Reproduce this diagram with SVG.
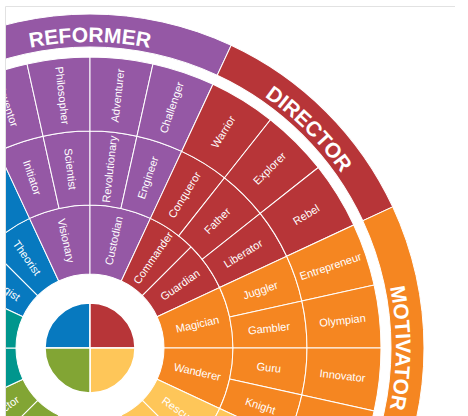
<svg xmlns="http://www.w3.org/2000/svg" width="468" height="416" viewBox="0 0 468 416">
<style>
.pu{fill:#9558A5}.rd{fill:#B73538}.or{fill:#F58621}.ye{fill:#FEC659}.bl{fill:#0779BF}.gr{fill:#82A534}.te{fill:#00968D}
use{stroke:#fff;stroke-width:1}
text{fill:#fff;font-family:"Liberation Sans",Arial,sans-serif;font-size:11px;text-anchor:middle}
text.big{font-size:21px;font-weight:bold}
.pie path{stroke:#fff;stroke-width:1.5}
</style>
<defs>
<clipPath id="clip"><rect x="6" y="7" width="462" height="409"/></clipPath>
<path id="r1a" d="M72.246,-16.017L139.610,-30.951A143,143 0 0 1 139.610,30.951L72.246,16.017A74,74 0 0 0 72.246,-16.017Z"/>
<path id="r1b" d="M72.876,-12.850L140.828,-24.832A143,143 0 0 1 140.828,24.832L72.876,12.850A74,74 0 0 0 72.876,-12.850Z"/>
<path id="r2a" d="M142.150,-15.568L215.710,-23.624A217,217 0 0 1 215.710,23.624L142.150,15.568A143,143 0 0 0 142.150,-15.568Z"/>
<path id="r2b" d="M142.033,-16.601L215.533,-25.192A217,217 0 0 1 215.533,25.192L142.033,16.601A143,143 0 0 0 142.033,-16.601Z"/>
<path id="r3a" d="M215.710,-23.624L289.270,-31.680A291,291 0 0 1 289.270,31.680L215.710,23.624A217,217 0 0 0 215.710,-23.624Z"/>
<path id="r3b" d="M215.533,-25.192L289.032,-33.783A291,291 0 0 1 289.032,33.783L215.533,25.192A217,217 0 0 0 215.533,-25.192Z"/>
<path id="o25" d="M272.799,-127.208L302.707,-141.154A334,334 0 0 1 302.707,141.154L272.799,127.208A301,301 0 0 0 272.799,-127.208Z"/>
<path id="o20" d="M282.848,-102.948L313.857,-114.235A334,334 0 0 1 313.857,114.235L282.848,102.948A301,301 0 0 0 282.848,-102.948Z"/>
<path id="tp-reformer" d="M-175,195A306,306 0 0 1 355,195"/>
<path id="tp-director" d="M10.8,52.4A306,306 0 0 1 385.6,427.2"/>
<path id="tp-motivator" d="M243,83A306,306 0 0 1 243,613"/>
</defs>
<line x1="5.5" y1="6.5" x2="455" y2="6.5" stroke="#E2E2E2" stroke-width="1"/>
<line x1="5.5" y1="6.5" x2="5.5" y2="416" stroke="#E2E2E2" stroke-width="1"/>
<g clip-path="url(#clip)">
<g id="outer-ring">
<g id="n-reformer"><use href="#o25" class="pu" transform="translate(90 348) rotate(-90)"/><text class="big"><textPath href="#tp-reformer" startOffset="50%">REFORMER</textPath></text></g>
<g id="n-director"><use href="#o20" class="rd" transform="translate(90 348) rotate(-45)"/><text class="big"><textPath href="#tp-director" startOffset="50%">DIRECTOR</textPath></text></g>
<g id="n-motivator"><use href="#o25" class="or" transform="translate(90 348) rotate(0)"/><text class="big"><textPath href="#tp-motivator" startOffset="50%">MOTIVATOR</textPath></text></g>
</g>
<g id="ring1">
<g id="n-strategist" transform="translate(90 348) rotate(-145)"><use href="#r1b" class="bl"/><text x="110" dy=".35em" transform="rotate(180 110 0)">Strategist</text></g>
<g id="n-theorist" transform="translate(90 348) rotate(-125)"><use href="#r1b" class="bl"/><text x="110" dy=".35em" transform="rotate(180 110 0)">Theorist</text></g>
<g id="n-visionary" transform="translate(90 348) rotate(-102.5)"><use href="#r1a" class="pu"/><text x="110" dy=".35em" transform="rotate(180 110 0)">Visionary</text></g>
<g id="n-custodian" transform="translate(90 348) rotate(-77.5)"><use href="#r1a" class="pu"/><text x="110" dy=".35em">Custodian</text></g>
<g id="n-commander" transform="translate(90 348) rotate(-55)"><use href="#r1b" class="rd"/><text x="110" dy=".35em">Commander</text></g>
<g id="n-guardian" transform="translate(90 348) rotate(-35)"><use href="#r1b" class="rd"/><text x="110" dy=".35em">Guardian</text></g>
<g id="n-magician" transform="translate(90 348) rotate(-12.5)"><use href="#r1a" class="or"/><text x="110" dy=".35em">Magician</text></g>
<g id="n-wanderer" transform="translate(90 348) rotate(12.5)"><use href="#r1a" class="or"/><text x="110" dy=".35em">Wanderer</text></g>
<g id="n-rescuer" transform="translate(90 348) rotate(35)"><use href="#r1b" class="ye"/><text x="110" dy=".35em">Rescuer</text></g>
<g id="n-y2" transform="translate(90 348) rotate(55)"><use href="#r1b" class="ye"/></g>
<g id="n-g1" transform="translate(90 348) rotate(125)"><use href="#r1b" class="gr"/></g>
<g id="n-protector" transform="translate(90 348) rotate(145)"><use href="#r1b" class="gr"/><text x="110" dy=".35em" transform="rotate(180 110 0)">Protector</text></g>
<g id="n-t1" transform="translate(90 348) rotate(167.5)"><use href="#r1a" class="te"/></g>
<g id="n-t2" transform="translate(90 348) rotate(192.5)"><use href="#r1a" class="te"/></g>
</g>
<g id="ring2">
<g id="n-b21" transform="translate(90 348) rotate(211.667)"><use href="#r2b" class="bl"/></g>
<g id="n-b22" transform="translate(90 348) rotate(225)"><use href="#r2b" class="bl"/></g>
<g id="n-b23" transform="translate(90 348) rotate(238.333)"><use href="#r2b" class="bl"/></g>
<g id="n-initiator" transform="translate(90 348) rotate(-108.75)"><use href="#r2a" class="pu"/><text x="180" dy=".35em" transform="rotate(180 180 0)">Initiator</text></g>
<g id="n-scientist" transform="translate(90 348) rotate(-96.25)"><use href="#r2a" class="pu"/><text x="180" dy=".35em" transform="rotate(180 180 0)">Scientist</text></g>
<g id="n-revolutionary" transform="translate(90 348) rotate(-83.75)"><use href="#r2a" class="pu"/><text x="180" dy=".35em">Revolutionary</text></g>
<g id="n-engineer" transform="translate(90 348) rotate(-71.25)"><use href="#r2a" class="pu"/><text x="180" dy=".35em">Engineer</text></g>
<g id="n-conqueror" transform="translate(90 348) rotate(-58.333)"><use href="#r2b" class="rd"/><text x="180" dy=".35em">Conqueror</text></g>
<g id="n-father" transform="translate(90 348) rotate(-45)"><use href="#r2b" class="rd"/><text x="180" dy=".35em">Father</text></g>
<g id="n-liberator" transform="translate(90 348) rotate(-31.667)"><use href="#r2b" class="rd"/><text x="180" dy=".35em">Liberator</text></g>
<g id="n-juggler" transform="translate(90 348) rotate(-18.75)"><use href="#r2a" class="or"/><text x="180" dy=".35em">Juggler</text></g>
<g id="n-gambler" transform="translate(90 348) rotate(-6.25)"><use href="#r2a" class="or"/><text x="180" dy=".35em">Gambler</text></g>
<g id="n-guru" transform="translate(90 348) rotate(6.25)"><use href="#r2a" class="or"/><text x="180" dy=".35em">Guru</text></g>
<g id="n-knight" transform="translate(90 348) rotate(18.75)"><use href="#r2a" class="or"/><text x="180" dy=".35em">Knight</text></g>
<g id="n-y21" transform="translate(90 348) rotate(31.667)"><use href="#r2b" class="ye"/></g>
<g id="n-y22" transform="translate(90 348) rotate(45)"><use href="#r2b" class="ye"/></g>
<g id="n-y23" transform="translate(90 348) rotate(58.333)"><use href="#r2b" class="ye"/></g>
<g id="n-g21" transform="translate(90 348) rotate(121.667)"><use href="#r2b" class="gr"/></g>
<g id="n-g22" transform="translate(90 348) rotate(135)"><use href="#r2b" class="gr"/></g>
<g id="n-g23" transform="translate(90 348) rotate(148.333)"><use href="#r2b" class="gr"/></g>
<g id="n-t21" transform="translate(90 348) rotate(161.25)"><use href="#r2a" class="te"/></g>
<g id="n-t22" transform="translate(90 348) rotate(173.75)"><use href="#r2a" class="te"/></g>
<g id="n-t23" transform="translate(90 348) rotate(186.25)"><use href="#r2a" class="te"/></g>
<g id="n-t24" transform="translate(90 348) rotate(198.75)"><use href="#r2a" class="te"/></g>
</g>
<g id="ring3">
<g id="n-b31" transform="translate(90 348) rotate(211.667)"><use href="#r3b" class="bl"/></g>
<g id="n-b32" transform="translate(90 348) rotate(225)"><use href="#r3b" class="bl"/></g>
<g id="n-b33" transform="translate(90 348) rotate(238.333)"><use href="#r3b" class="bl"/></g>
<g id="n-inventor" transform="translate(90 348) rotate(-108.75)"><use href="#r3a" class="pu"/><text x="254" dy=".35em" transform="rotate(180 254 0)">Inventor</text></g>
<g id="n-philosopher" transform="translate(90 348) rotate(-96.25)"><use href="#r3a" class="pu"/><text x="254" dy=".35em" transform="rotate(180 254 0)">Philosopher</text></g>
<g id="n-adventurer" transform="translate(90 348) rotate(-83.75)"><use href="#r3a" class="pu"/><text x="254" dy=".35em">Adventurer</text></g>
<g id="n-challenger" transform="translate(90 348) rotate(-71.25)"><use href="#r3a" class="pu"/><text x="254" dy=".35em">Challenger</text></g>
<g id="n-warrior" transform="translate(90 348) rotate(-58.333)"><use href="#r3b" class="rd"/><text x="254" dy=".35em">Warrior</text></g>
<g id="n-explorer" transform="translate(90 348) rotate(-45)"><use href="#r3b" class="rd"/><text x="254" dy=".35em">Explorer</text></g>
<g id="n-rebel" transform="translate(90 348) rotate(-31.667)"><use href="#r3b" class="rd"/><text x="254" dy=".35em">Rebel</text></g>
<g id="n-entrepreneur" transform="translate(90 348) rotate(-18.75)"><use href="#r3a" class="or"/><text x="254" dy=".35em">Entrepreneur</text></g>
<g id="n-olympian" transform="translate(90 348) rotate(-6.25)"><use href="#r3a" class="or"/><text x="254" dy=".35em">Olympian</text></g>
<g id="n-innovator" transform="translate(90 348) rotate(6.25)"><use href="#r3a" class="or"/><text x="254" dy=".35em">Innovator</text></g>
<g id="n-o34" transform="translate(90 348) rotate(18.75)"><use href="#r3a" class="or"/></g>
<g id="n-y31" transform="translate(90 348) rotate(31.667)"><use href="#r3b" class="ye"/></g>
<g id="n-g31" transform="translate(90 348) rotate(121.667)"><use href="#r3b" class="gr"/></g>
<g id="n-g32" transform="translate(90 348) rotate(135)"><use href="#r3b" class="gr"/></g>
<g id="n-g33" transform="translate(90 348) rotate(148.333)"><use href="#r3b" class="gr"/></g>
<g id="n-t31" transform="translate(90 348) rotate(161.25)"><use href="#r3a" class="te"/></g>
<g id="n-t34" transform="translate(90 348) rotate(198.75)"><use href="#r3a" class="te"/></g>
</g>
<g id="center" class="pie">
<path class="bl" d="M90,348L45,348A45,45 0 0 1 90,303Z"/>
<path class="rd" d="M90,348L90,303A45,45 0 0 1 135,348Z"/>
<path class="ye" d="M90,348L135,348A45,45 0 0 1 90,393Z"/>
<path class="gr" d="M90,348L90,393A45,45 0 0 1 45,348Z"/>
</g>
</g>
</svg>
